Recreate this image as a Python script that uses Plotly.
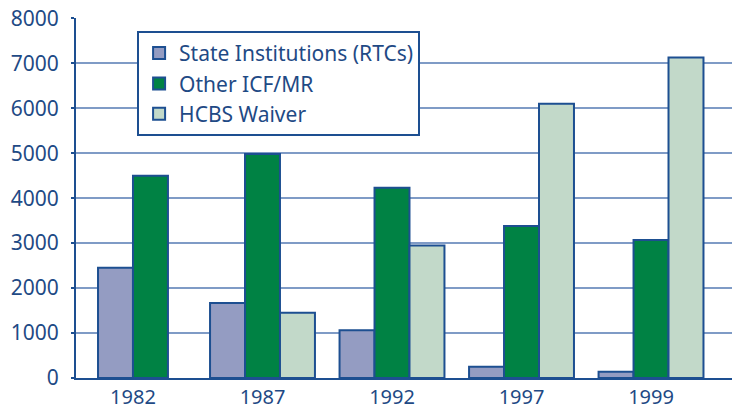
import plotly.graph_objects as go

years = ["1982", "1987", "1992", "1997", "1999"]
rtc = [2450, 1670, 1060, 250, 140]
icf = [4500, 4980, 4230, 3380, 3070]
hcbs = [None, 1450, 2950, 6100, 7130]

series = [
    ("State Institutions (RTCs)", rtc, "#949cc2"),
    ("Other ICF/MR", icf, "#008244"),
    ("HCBS Waiver", hcbs, "#c2d9c9"),
]

BW = 0.27  # bar width in category units
EDGE = "#1d4f91"
TXT = "#1f4a85"

# centre the bars present in each category
offsets = {name: [] for name, _, _ in series}
for i in range(len(years)):
    present = [name for name, vals, _ in series if vals[i] is not None]
    n = len(present)
    for name, vals, _ in series:
        if vals[i] is None:
            offsets[name].append(0)
        else:
            k = present.index(name)
            offsets[name].append((k - n / 2) * BW)

fig = go.Figure()
for j, (name, vals, col) in enumerate(series):
    fig.add_trace(go.Bar(
        x=years, y=vals, name=name, legendgroup=f"g{j}",
        width=[BW] * len(years), offset=offsets[name],
        marker=dict(color=col, line=dict(color=EDGE, width=2)),
    ))

# the page body has an 8px margin, so the margins are shifted by 8px
fig.update_layout(
    width=740, height=405,
    margin=dict(l=68, r=8, t=10, b=35),
    paper_bgcolor="white", plot_bgcolor="white",
    barmode="overlay",
    font=dict(family="Noto Sans", color=TXT, size=21),
    showlegend=True,
    legend=dict(
        x=0.092, y=0.964, xanchor="left", yanchor="top",
        bgcolor="white", bordercolor=EDGE, borderwidth=2,
        font=dict(size=21, color=TXT),
        traceorder="grouped", tracegroupgap=0,
        itemwidth=30,
    ),
    xaxis=dict(
        type="category", range=[-0.44, 4.687], automargin=False,
        showline=True, linecolor=EDGE, linewidth=2,
        showgrid=False, ticks="", tickfont=dict(size=20, color=TXT),
        ticklabelstandoff=0, ticklabeloverflow="allow",
    ),
    yaxis=dict(
        range=[0, 8008], tickvals=list(range(0, 8001, 1000)), automargin=False,
        showline=True, linecolor=EDGE, linewidth=2,
        showgrid=True, gridcolor="#7f9bc6", gridwidth=1.5,
        ticks="outside", ticklen=3, tickcolor=EDGE, tickwidth=1.5,
        tickfont=dict(size=21, color=TXT), zeroline=False,
        ticklabelstandoff=8, ticklabeloverflow="allow",
    ),
)

fig.write_html("out.html")
